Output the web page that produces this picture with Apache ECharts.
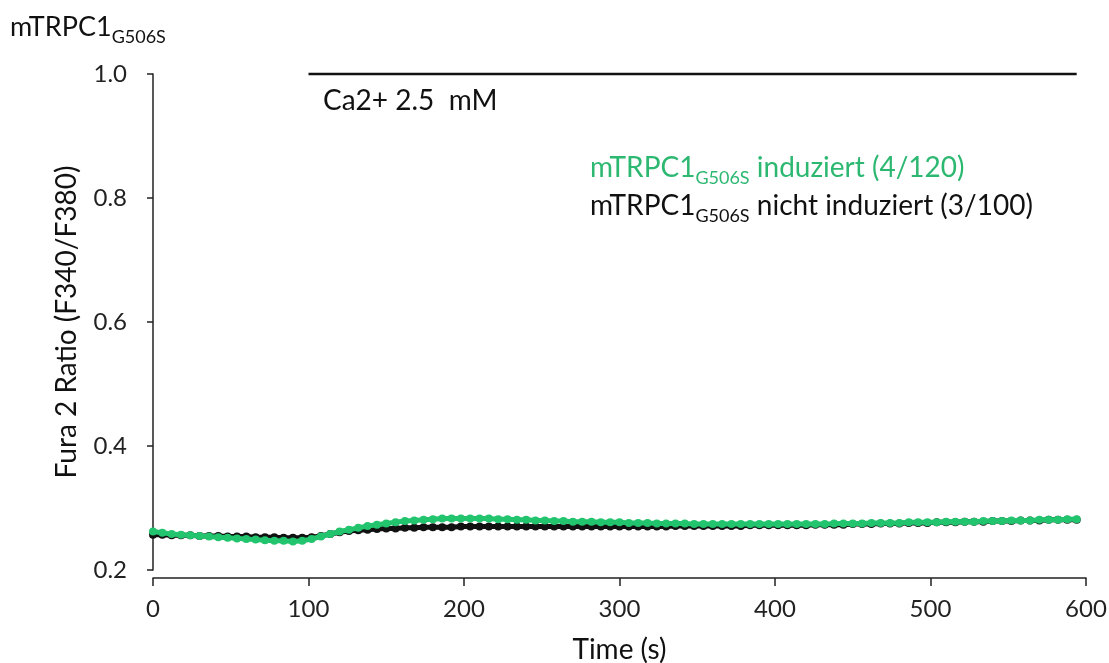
<!DOCTYPE html>
<html>
<head>
<meta charset="utf-8">
<script src="https://cdn.jsdelivr.net/npm/echarts@6/dist/echarts.min.js"></script>
<style>
  html, body { margin: 0; padding: 0; background: #fff; }
  #chart { width: 1109px; height: 663px; }
</style>
</head>
<body>
<div id="chart"></div>
<script>
// Fura-2 ratio traces, one sample every 6 s
const SAMPLE_STEP = 6;

// mTRPC1 G506S induziert (4/120)
const induziert = [
  0.262, 0.260, 0.258, 0.257, 0.256, 0.255, 0.254, 0.253, 0.252, 0.251,
  0.250, 0.249, 0.248, 0.247, 0.247, 0.246, 0.247, 0.250, 0.254, 0.258,
  0.262, 0.265, 0.268, 0.271, 0.273, 0.275, 0.277, 0.279, 0.280, 0.281,
  0.282, 0.283, 0.283, 0.283, 0.283, 0.283, 0.283, 0.282, 0.282, 0.281,
  0.281, 0.280, 0.280, 0.279, 0.279, 0.278, 0.278, 0.278, 0.277, 0.277,
  0.277, 0.276, 0.276, 0.276, 0.275, 0.275, 0.275, 0.275, 0.274, 0.274,
  0.274, 0.274, 0.274, 0.274, 0.274, 0.274, 0.274, 0.274, 0.274, 0.274,
  0.274, 0.274, 0.274, 0.275, 0.275, 0.275, 0.275, 0.276, 0.276, 0.276,
  0.276, 0.277, 0.277, 0.277, 0.277, 0.278, 0.278, 0.278, 0.278, 0.279,
  0.279, 0.279, 0.280, 0.280, 0.280, 0.281, 0.281, 0.281, 0.282, 0.282
];

// mTRPC1 G506S nicht induziert (3/100)
const nichtInduziert = [
  0.257, 0.257, 0.256, 0.256, 0.256, 0.255, 0.255, 0.255, 0.254, 0.254,
  0.254, 0.253, 0.253, 0.253, 0.252, 0.252, 0.252, 0.253, 0.255, 0.258,
  0.261, 0.263, 0.264, 0.265, 0.266, 0.267, 0.267, 0.268, 0.268, 0.269,
  0.269, 0.269, 0.269, 0.270, 0.270, 0.270, 0.270, 0.270, 0.270, 0.270,
  0.270, 0.270, 0.270, 0.270, 0.270, 0.270, 0.270, 0.270, 0.270, 0.270,
  0.270, 0.270, 0.270, 0.270, 0.270, 0.270, 0.271, 0.271, 0.271, 0.271,
  0.271, 0.271, 0.271, 0.271, 0.272, 0.272, 0.272, 0.272, 0.272, 0.272,
  0.272, 0.273, 0.273, 0.273, 0.273, 0.274, 0.274, 0.274, 0.275, 0.275,
  0.275, 0.276, 0.276, 0.276, 0.277, 0.277, 0.277, 0.278, 0.278, 0.278,
  0.279, 0.279, 0.279, 0.280, 0.280, 0.280, 0.281, 0.281, 0.281, 0.281
];

// Calcium application window (s) and its marker level on the ratio axis
const caWindow = [100, 594];
const caLevel = 1.0;

const xTicks = [0, 100, 200, 300, 400, 500, 600];
const yTicks = [0.2, 0.4, 0.6, 0.8, 1.0];

const GREEN = '#22c46e';
const GREEN_TEXT = '#2db872';
const FONT = 'Lato, "Open Sans", sans-serif';

const toPairs = arr => arr.map((v, i) => [i * SAMPLE_STEP, v]);

// main text + subscript rich styles
const richLabel = (color, size, subSize) => ({
  m: { fontSize: size, fill: color, fontFamily: FONT, verticalAlign: 'bottom' },
  s: { fontSize: subSize, fill: color, fontFamily: FONT, verticalAlign: 'bottom', padding: [0, 0, -5, 0] }
});

const chart = echarts.init(document.getElementById('chart'));

chart.setOption({
  animation: false,
  backgroundColor: '#fff',
  textStyle: { fontFamily: FONT },
  grid: {
    left: 153, right: 23, top: 74, bottom: 93,
    containLabel: false,
    outerBoundsMode: 'none'
  },
  xAxis: {
    type: 'value',
    min: xTicks[0],
    max: xTicks[xTicks.length - 1],
    interval: 100,
    offset: 8,
    name: 'Time (s)',
    nameLocation: 'middle',
    nameGap: 58,
    nameTextStyle: { fontSize: 28, color: '#111', fontFamily: FONT },
    axisLine: { lineStyle: { color: '#222', width: 1.5 } },
    axisTick: { length: 8, lineStyle: { color: '#222', width: 1.5 } },
    axisLabel: { fontSize: 24, color: '#222', margin: 19, fontFamily: FONT },
    splitLine: { show: false }
  },
  yAxis: {
    type: 'value',
    min: yTicks[0],
    max: yTicks[yTicks.length - 1],
    interval: 0.2,
    offset: 6,
    name: 'Fura 2 Ratio (F340/F380)',
    nameLocation: 'middle',
    nameGap: 66,
    nameTextStyle: { fontSize: 28, color: '#111', fontFamily: FONT },
    axisLine: { show: true, lineStyle: { color: '#222', width: 1.5 } },
    axisTick: { show: true, length: 6, lineStyle: { color: '#222', width: 1.5 } },
    axisLabel: {
      fontSize: 24, color: '#222', margin: 20, fontFamily: FONT,
      formatter: v => v.toFixed(1)
    },
    splitLine: { show: false }
  },
  graphic: [
    {
      type: 'text', left: 10, top: 14,
      style: { text: '{m|mTRPC1}{s|G506S}', rich: richLabel('#111', 27, 18) }
    },
    {
      type: 'text', left: 323, top: 87,
      style: { text: 'Ca2+ 2.5  mM', fontSize: 28, fill: '#111', fontFamily: FONT }
    },
    {
      type: 'text', left: 590, top: 154,
      style: {
        text: '{m|mTRPC1}{s|G506S}{m| induziert (4/120)}',
        rich: richLabel(GREEN_TEXT, 28, 18)
      }
    },
    {
      type: 'text', left: 590, top: 192,
      style: {
        text: '{m|mTRPC1}{s|G506S}{m| nicht induziert (3/100)}',
        rich: richLabel('#111', 28, 18)
      }
    }
  ],
  series: [
    {
      name: 'Ca2+',
      type: 'line',
      data: caWindow.map(t => [t, caLevel]),
      symbol: 'none',
      clip: false,
      lineStyle: { color: '#111', width: 2.5 },
      z: 1
    },
    {
      name: 'nicht induziert',
      type: 'line',
      data: toPairs(nichtInduziert),
      symbol: 'circle',
      symbolSize: 8,
      itemStyle: { color: '#111' },
      lineStyle: { color: '#111', width: 5 },
      z: 2
    },
    {
      name: 'induziert',
      type: 'line',
      data: toPairs(induziert),
      symbol: 'circle',
      symbolSize: 8,
      itemStyle: { color: GREEN },
      lineStyle: { color: GREEN, width: 5 },
      z: 3
    }
  ]
});
</script>
</body>
</html>
